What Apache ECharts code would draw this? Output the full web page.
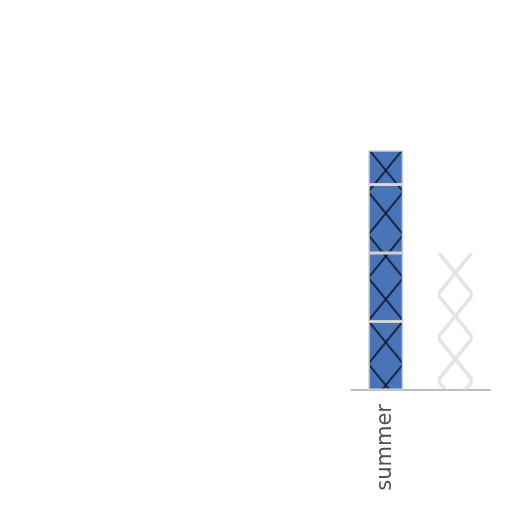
<!DOCTYPE html>
<html>
<head>
<meta charset="utf-8">
<script src="https://cdn.jsdelivr.net/npm/echarts@6/dist/echarts.min.js"></script>
<style>
html,body{margin:0;padding:0;background:#fff;}
#c{width:512px;height:512px;}
</style>
</head>
<body>
<div id="c"></div>
<script>
// ---- data ----
const categories = ['summer', ''];
const seriesNames = ['A', 'B', 'C', 'D'];
const valuesA = [2, 2];
const valuesB = [2, 2];
const valuesC = [2, null];
const valuesD = [1, null];
const allValues = [valuesA, valuesB, valuesC, valuesD];

// ---- styles ----
const BAR_W = 35, TILE_H = 43;
function makeTile(fill, stroke, lw, alpha) {
  const cv = document.createElement('canvas');
  cv.width = BAR_W; cv.height = TILE_H;
  const g = cv.getContext('2d');
  if (fill) { g.fillStyle = fill; g.fillRect(0, 0, BAR_W, TILE_H); }
  g.globalAlpha = alpha;
  g.strokeStyle = stroke; g.lineWidth = lw;
  g.beginPath();
  g.moveTo(0, 0); g.lineTo(BAR_W, TILE_H);
  g.moveTo(BAR_W, 0); g.lineTo(0, TILE_H);
  g.stroke();
  return cv;
}
const blueTile = makeTile('#4a74b8', '#0a1428', 1.6, 1);
const ghostTile = makeTile(null, '#d4d4d4', 3.5, 0.65);

const chart = echarts.init(document.getElementById('c'), null, {renderer: 'canvas'});

function buildOption(offsets) {
  return {
    animation: false,
    backgroundColor: '#ffffff',
    grid: {left: 351, right: 22, top: 116, bottom: 122, containLabel: false},
    xAxis: {
      type: 'category',
      data: categories,
      axisLine: {lineStyle: {color: '#a8a8a8', width: 1.5}},
      axisTick: {alignWithLabel: true, length: 6, lineStyle: {color: '#999'}},
      axisLabel: {rotate: 90, margin: 14, fontSize: 21, color: '#505050', fontFamily: 'DejaVu Sans'}
    },
    yAxis: {type: 'value', min: 0, max: 8, show: false},
    series: allValues.map((vals, si) => ({
      name: seriesNames[si],
      type: 'bar',
      stack: 'total',
      barWidth: BAR_W,
      data: vals.map((v, ci) => ({
        value: v,
        itemStyle: ci === 0 ? {
          color: {image: blueTile, repeat: 'repeat', x: offsets[0].x, y: offsets[0].y},
          borderColor: '#cfcfcf', borderWidth: 1.5
        } : {
          color: {image: ghostTile, repeat: 'repeat', x: offsets[1].x, y: offsets[1].y},
          borderWidth: 0
        }
      }))
    }))
  };
}

chart.setOption(buildOption([{x: 0, y: 0}, {x: 0, y: 0}]));
// align hatch tiles with each bar's top-left corner, using the library's scales
const offsets = categories.map((c, ci) => {
  const cx = chart.convertToPixel({xAxisIndex: 0}, ci);
  let total = 0;
  allValues.forEach(a => { if (a[ci] != null) total += a[ci]; });
  const ty = chart.convertToPixel({yAxisIndex: 0}, total);
  return {x: cx - BAR_W / 2, y: ty - 1.5};
});
chart.setOption(buildOption(offsets));
</script>
</body>
</html>
